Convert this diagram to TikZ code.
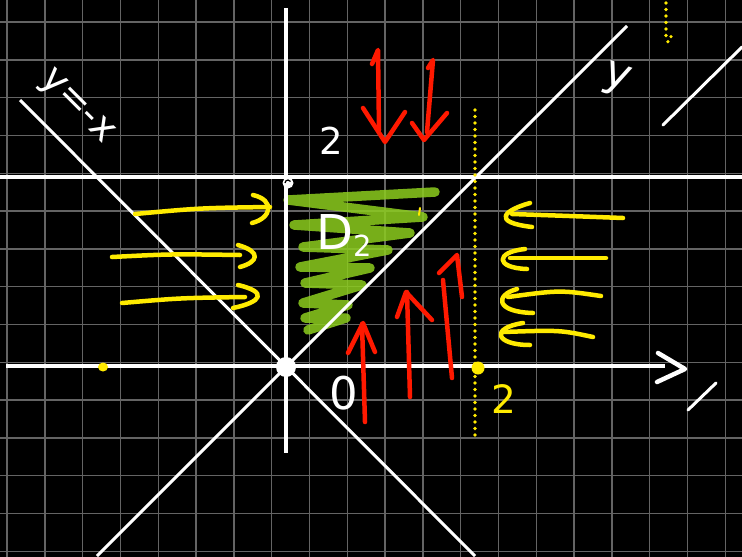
\documentclass[tikz,border=0pt]{standalone}
\usepackage{fontspec}
\setmainfont{DejaVu Sans}
\definecolor{gridgray}{RGB}{100,100,100}
\definecolor{penred}{RGB}{255,25,0}
\definecolor{penyellow}{RGB}{255,235,0}
\definecolor{pengreen}{RGB}{140,205,30}
\begin{document}
\begin{tikzpicture}[x=1pt,y=-1pt,
  gridline/.style={draw=gridgray,line width=1.4pt},
  axisline/.style={draw=white,line width=4pt},
  diagline/.style={draw=white,line width=3pt},
  ink/.style={line width=4.5pt,line cap=round,line join=round},
  redink/.style={ink,draw=penred},
  yellowink/.style={ink,draw=penyellow},
  whiteink/.style={ink,draw=white},
  yellowdots/.style={draw=penyellow,line width=3.6pt,line cap=round,dash pattern=on 0pt off 6.5pt},
  lbl/.style={inner sep=0pt,text=white}
]
\useasboundingbox (0,0) rectangle (742,557);
\fill[black] (0,0) rectangle (742,557);
% grid
\foreach \i in {0,...,19} \draw[gridline] ({7+37.8*\i},0) -- ({7+37.8*\i},557);
\foreach \j in {0,...,14} \draw[gridline] (0,{22+37.8*\j}) -- (742,{22+37.8*\j});

% green shading of D2
\draw[pengreen,opacity=0.85,line width=9.5pt,line cap=round,line join=round]
  (435,192) -- (288,200) -- (423,217) -- (294,225) -- (410,233) -- (303,247)
  -- (388,250) -- (300,267) -- (370,268) -- (305,283) -- (362,285) -- (303,303)
  -- (348,305) -- (305,318) -- (346,318) -- (308,330);

% coordinates
\coordinate (O) at (286,367);
\coordinate (xl) at (6,366);
\coordinate (xr) at (665,366);
\coordinate (yt) at (286,8);
\coordinate (yb) at (286,453);
\coordinate (h2l) at (0,177);
\coordinate (h2r) at (742,177);
\coordinate (dpa) at (97,556);
\coordinate (dpb) at (627,26);
\coordinate (dna) at (20,100);
\coordinate (dnb) at (475,556);

% lines
\draw[diagline] (dpa) -- (dpb);
\draw[diagline] (dna) -- (dnb);
\draw[axisline] (xl) -- (xr);
\draw[axisline] (yt) -- (yb);
\draw[axisline] (h2l) -- (h2r);
\draw[whiteink] (658,353) -- (685,369) -- (657,382);
\draw[whiteink,line width=3pt] (688,410) -- (716,383);
\draw[whiteink,line width=3pt] (663,125) -- (742,47);

% dots
\fill[white] (O) circle (10);
\fill[white] (288,183) circle (5.5);
\draw[black,line width=1.2pt] (285,183) arc (180:330:3);
\fill[penyellow] (103,367) ellipse (5 and 4.5);
\fill[penyellow] (478,368) circle (6.5);

% yellow dotted lines
\draw[yellowdots] (475,110) -- (475,437);
\draw[yellowdots] (666,3) -- (666,36) -- (668,42) -- (673,33);

% labels
\node[lbl,font=\fontsize{37}{40}\selectfont] (ltwo) at (331,141) {2};
\node[lbl,font=\fontsize{45}{48}\selectfont] (lzero) at (344,393) {0};
\node[lbl,text=penyellow,font=\fontsize{39}{42}\selectfont] (xtwo) at (504,399) {2};
\node[lbl,font=\fontsize{48}{50}\selectfont] (dtwo) at (344,236) {D\raisebox{-7pt}{\fontsize{29}{30}\selectfont 2}};
\node[lbl,font=\fontsize{44}{46}\selectfont,rotate=-20] (ylab) at (616,80) {y};
\node[lbl,font=\fontsize{38}{40}\selectfont,rotate=-45] (ynlab) at (76,108) {y=-x};

% red arrows down
\draw[redink] (372,64) -- (378,50) -- (379,130);
\draw[redink] (363,108) -- (385,142) -- (405,112);
\draw[redink] (428,68) -- (433,60) -- (427,132);
\draw[redink] (412,123) -- (424,140) -- (447,113);
% red arrows up
\draw[redink] (365,422) -- (362,324);
\draw[redink] (348,353) -- (363,323) -- (375,352);
\draw[redink] (410,397) -- (407,292);
\draw[redink] (397,317) -- (406,292) -- (432,320);
\draw[redink] (452,378) -- (443,280);
\draw[redink] (439,273) -- (457,255) -- (462,297);

% yellow arrows right
\draw[yellowink] (135,214) .. controls (200,208) .. (270,207);
\draw[yellowink] (253,195) .. controls (275,200) and (272,218) .. (252,223);
\draw[yellowink] (112,257) .. controls (170,254) .. (240,255);
\draw[yellowink] (238,245) .. controls (262,252) and (258,262) .. (240,267);
\draw[yellowink] (122,303) .. controls (180,298) .. (245,297);
\draw[yellowink] (238,285) .. controls (268,292) and (262,302) .. (233,308);
% yellow arrows left
\draw[yellowink] (623,218) .. controls (570,216) .. (512,214);
\draw[yellowink] (530,203) .. controls (505,210) and (490,222) .. (532,227);
\draw[yellowink] (606,258) -- (510,258);
\draw[yellowink] (525,249) .. controls (495,252) and (495,268) .. (527,269);
\draw[yellowink] (601,296) .. controls (560,290) .. (508,297);
\draw[yellowink] (517,289) .. controls (495,295) and (495,312) .. (533,313);
\draw[yellowink] (593,337) .. controls (560,330) .. (503,332);
\draw[yellowink] (523,323) .. controls (490,328) and (495,345) .. (530,345);
\draw[penyellow,line width=2pt,line cap=round] (420,208) -- (419,215);
\end{tikzpicture}
\end{document}
